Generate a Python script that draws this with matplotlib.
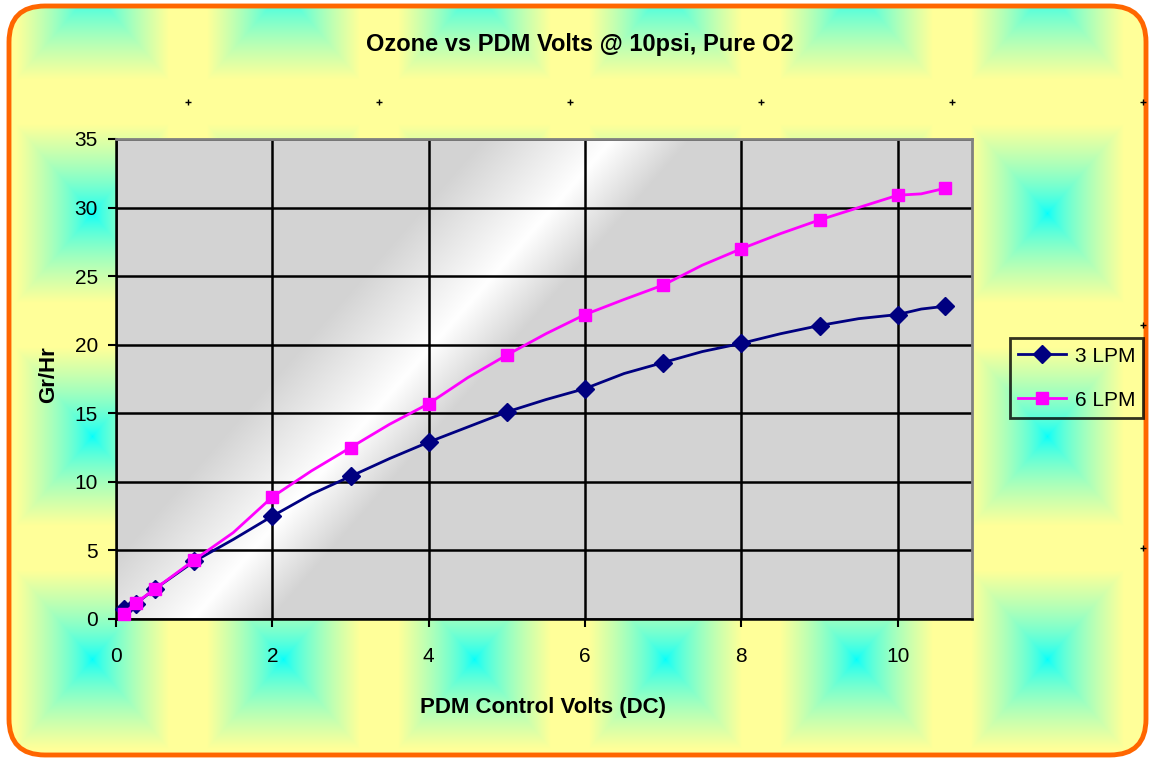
import numpy as np
import matplotlib.pyplot as plt
from matplotlib.lines import Line2D
from matplotlib.patches import FancyBboxPatch

plt.rcParams['font.family'] = ['Liberation Sans', 'DejaVu Sans']

# --- data ---
volts = [0.1, 0.25, 0.5, 1.0, 1.5, 2.0, 2.5, 3.0, 3.5, 4.0, 4.5, 5.0, 5.5, 6.0,
         6.5, 7.0, 7.5, 8.0, 8.5, 9.0, 9.5, 10.0, 10.3, 10.6]
lpm3 = [0.7, 1.1, 2.2, 4.2, 5.8, 7.5, 9.1, 10.4, 11.7, 12.9, 14.0, 15.1, 16.0, 16.8,
        17.9, 18.7, 19.5, 20.1, 20.8, 21.4, 21.9, 22.2, 22.6, 22.8]
lpm6 = [0.4, 1.15, 2.2, 4.3, 6.3, 8.9, 10.8, 12.5, 14.2, 15.7, 17.6, 19.25, 20.8, 22.2,
        23.3, 24.35, 25.8, 27.0, 28.1, 29.1, 30.0, 30.9, 31.0, 31.4]
# points that carry a marker in the original
marked = [0.1, 0.25, 0.5, 1, 2, 3, 4, 5, 6, 7, 8, 9, 10, 10.6]

title = 'Ozone vs PDM Volts @ 10psi, Pure O2'
xlabel = 'PDM Control Volts (DC)'
ylabel = 'Gr/Hr'
names = ['3 LPM', '6 LPM']
col3, col6 = '#000080', '#FF00FF'

W, H = 1151, 761
fig = plt.figure(figsize=(W / 100, H / 100), dpi=100)
fig.patch.set_facecolor('white')

# --- tiled cyan/yellow background ---
bg = fig.add_axes([0, 0, 1, 1], zorder=-10)
tw, th = 191.0, 223.0
cx0, cy0 = 92.5, -9.5
yy, xx = np.mgrid[0:H, 0:W] + 0.5
dx = np.abs(((xx - cx0 + tw / 2) % tw) - tw / 2) / (tw / 2)
dy = np.abs(((yy - cy0 + th / 2) % th) - th / 2) / (th / 2)
t = np.maximum(dx, dy)
f = np.clip(t / 0.8, 0, 1) ** 0.65
cyan = np.array([0.0, 1.0, 1.0])
yellow = np.array([1.0, 1.0, 0.6])
img = cyan[None, None, :] * (1 - f[..., None]) + yellow[None, None, :] * f[..., None]
im = bg.imshow(img, extent=[0, W, H, 0], interpolation='bilinear')
bg.set_xlim(0, W)
bg.set_ylim(H, 0)
bg.axis('off')
clip = FancyBboxPatch((9, 6), W - 14, H - 12, boxstyle='round,pad=0,rounding_size=36',
                      transform=bg.transData, facecolor='none', edgecolor='none')
bg.add_patch(clip)
im.set_clip_path(clip)
bg.add_patch(FancyBboxPatch((9, 6), W - 14, H - 12, boxstyle='round,pad=0,rounding_size=36',
                            facecolor='none', edgecolor='#FF6600', linewidth=3.5))
# small crosses at the tile corners
px = np.arange(188, W, tw)
py = np.arange(102, H, th)
gx, gy = np.meshgrid(px, py)
bg.plot(gx.ravel(), gy.ravel(), '+', color='black', markersize=5, markeredgewidth=1)

# --- plot area ---
ax = fig.add_axes([116 / W, 1 - 619 / H, (972 - 116) / W, (619 - 139) / H])
xmax, ymax = 10.95, 35
ax.set_xlim(0, xmax)
ax.set_ylim(0, ymax)
u, v = np.meshgrid(np.linspace(0, 1, 500), np.linspace(1, 0, 300))
p = u - 0.09 - 0.49 * v
g = np.where(p < 0, np.clip(-p / 0.15, 0, 1), np.clip(p / 0.09, 0, 1))
shade = 1.0 - 0.17 * g
ax.imshow(np.dstack([shade] * 3), extent=[0, xmax, 0, ymax], aspect='auto',
          interpolation='bilinear', zorder=0)

ax.set_xticks(np.arange(0, 11, 2))
ax.set_yticks(np.arange(0, 36, 5))
ax.grid(True, color='black', linewidth=1.8, zorder=1)
ax.set_axisbelow(True)
for s in ['top', 'right']:
    ax.spines[s].set_color('#808080')
    ax.spines[s].set_linewidth(2)
for s in ['left', 'bottom']:
    ax.spines[s].set_color('black')
    ax.spines[s].set_linewidth(1.8)
ax.tick_params(direction='out', length=6, width=1.5, color='black', labelsize=15)
ax.tick_params(axis='y', pad=7)
ax.tick_params(axis='x', pad=14)

mk = [volts.index(m) for m in marked]
l3, = ax.plot(volts, lpm3, color=col3, linewidth=2, zorder=3,
              marker='D', markersize=9.5, markevery=mk)
l6, = ax.plot(volts, lpm6, color=col6, linewidth=2, zorder=4,
              marker='s', markersize=9, markevery=mk)
for line in (l3, l6):
    line.set_clip_on(False)

fig.text(580 / W, 1 - 45 / H, title, ha='center', va='center', fontsize=17,
         fontweight='bold')
fig.text(543 / W, 1 - 707 / H, xlabel, ha='center', va='center', fontsize=16,
         fontweight='bold')
fig.text(49 / W, 1 - 375 / H, ylabel, ha='center', va='center', fontsize=16,
         fontweight='bold', rotation=90)

handles = [Line2D([], [], color=col3, linewidth=2, marker='D', markersize=9.5),
           Line2D([], [], color=col6, linewidth=2, marker='s', markersize=9)]
leg = fig.legend(handles, names, loc='center left',
                 bbox_to_anchor=(1010 / W, 1 - 378 / H), frameon=True,
                 fancybox=False, fontsize=15,
                 handlelength=2.3, borderpad=0.4, labelspacing=1.2,
                 handletextpad=0.4, borderaxespad=0)
leg.get_frame().set_facecolor('none')
leg.get_frame().set_edgecolor('black')
leg.get_frame().set_linewidth(2)

fig.savefig('out.png', dpi=100)
